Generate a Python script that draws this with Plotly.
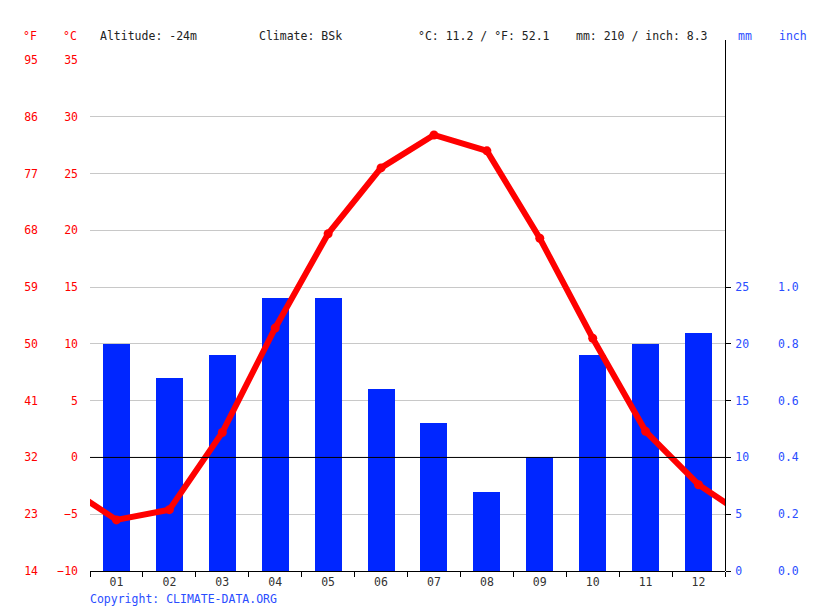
import plotly.graph_objects as go

# ---- data ----
months = list(range(1, 13))
month_labels = ["01", "02", "03", "04", "05", "06", "07", "08", "09", "10", "11", "12"]
precip_mm = [20, 17, 19, 24, 24, 16, 13, 7, 10, 19, 20, 21]
temp_c = [-5.5, -4.6, 2.2, 11.4, 19.7, 25.5, 28.4, 27.0, 19.3, 10.5, 2.3, -2.4]

c_ticks = [-10, -5, 0, 5, 10, 15, 20, 25, 30, 35]
f_labels = ["14", "23", "32", "41", "50", "59", "68", "77", "86", "95"]
mm_ticks = [0, 5, 10, 15, 20, 25]
inch_labels = ["0.0", "0.2", "0.4", "0.6", "0.8", "1.0"]

header_left = "Altitude: -24m"
header_climate = "Climate: BSk"
header_temp = "°C: 11.2 / °F: 52.1"
header_precip = "mm: 210 / inch: 8.3"

# ---- layout geometry (page has an 8px body margin) ----
OFF = 8
W, H = 815 - OFF, 611 - OFF
L, R, T, B = 90 - OFF, 90, 60 - OFF, 40
PW, PH = W - L - R, H - T - B

def px_x(x):
    return (x - OFF - L) / PW

def px_y(y):
    return (H - B - (y - OFF)) / PH

FONT = "DejaVu Sans Mono"
FS = 11.5
RED = "#ff0000"
BLUE = "#0026ff"
LBLUE = "#2a4dff"

# cyclic wrap so the line runs to the plot edges (clipped by the axis range)
line_x = [0] + months + [13]
line_y = [temp_c[-1]] + temp_c + [temp_c[0]]
boundaries = [m - 0.5 for m in months] + [months[-1] + 0.5]

fig = go.Figure()
fig.add_trace(go.Bar(x=months, y=precip_mm, width=0.51, marker=dict(color=BLUE, line=dict(width=0)),
                     yaxis="y", showlegend=False, hoverinfo="skip"))
fig.add_trace(go.Scatter(x=line_x, y=line_y, mode="lines+markers", yaxis="y2",
                         line=dict(color=RED, width=6), marker=dict(color=RED, size=9),
                         showlegend=False, hoverinfo="skip", cliponaxis=True))
# invisible traces so the secondary label axes (°F, inch) get drawn
fig.add_trace(go.Scatter(x=[months[0]], y=[c_ticks[0]], yaxis="y3", mode="markers",
                         marker=dict(opacity=0), showlegend=False, hoverinfo="skip"))
fig.add_trace(go.Scatter(x=[months[0]], y=[mm_ticks[0]], yaxis="y4", mode="markers",
                         marker=dict(opacity=0), showlegend=False, hoverinfo="skip"))

fig.update_layout(
    width=W, height=H,
    margin=dict(l=L, r=R, t=T, b=B, pad=0),
    paper_bgcolor="white", plot_bgcolor="white",
    font=dict(family=FONT, size=FS, color="#222"),
    bargap=0,
    xaxis=dict(range=[0.5, 12.5], tickmode="array", tickvals=months, ticktext=month_labels,
               ticks="", showgrid=False, zeroline=False, showline=True, linecolor="black", linewidth=1,
               tickfont=dict(family=FONT, size=FS, color="#333"),
               minor=dict(tickmode="array", tickvals=boundaries, ticks="outside", ticklen=5,
                          tickcolor="black", tickwidth=1, showgrid=False)),
    yaxis=dict(range=[0, 45], side="right", tickmode="array", tickvals=mm_ticks,
               ticks="outside", ticklen=5, tickcolor="black", showgrid=False, zeroline=False,
               showline=False, tickfont=dict(family=FONT, size=FS, color=LBLUE), ticklabelstandoff=2),
    yaxis2=dict(range=[-10, 35], overlaying="y", side="left", anchor="x", tickmode="array",
                tickvals=c_ticks, ticks="", showgrid=True, gridcolor="#c8c8c8", gridwidth=1,
                zeroline=False, showline=False, tickfont=dict(family=FONT, size=FS, color=RED),
                ticklabelstandoff=11),
    yaxis3=dict(range=[-10, 35], overlaying="y", side="left", anchor="free", position=0,
                tickmode="array", tickvals=c_ticks, ticktext=f_labels, ticks="", showgrid=False,
                zeroline=False, showline=False, tickfont=dict(family=FONT, size=FS, color=RED),
                ticklabelstandoff=52),
    yaxis4=dict(range=[0, 45], overlaying="y", side="right", anchor="free", position=1,
                tickmode="array", tickvals=mm_ticks, ticktext=inch_labels, ticks="", showgrid=False,
                zeroline=False, showline=False, tickfont=dict(family=FONT, size=FS, color=LBLUE),
                ticklabelstandoff=52),
)

# zero line above bars and right vertical axis line (snapped to a pixel centre)
fig.add_shape(type="line", xref="paper", yref="y2", x0=0, x1=1, y0=0, y1=0,
              line=dict(color="black", width=1), layer="above")
xr = 1 + 0.5 / PW
fig.add_shape(type="line", xref="paper", yref="paper", x0=xr, x1=xr, y0=0, y1=px_y(40),
              line=dict(color="black", width=1), layer="above")

def ann(text, x, y, color="#222", xanchor="left"):
    fig.add_annotation(text=text, xref="paper", yref="paper", x=px_x(x), y=px_y(y),
                       xanchor=xanchor, yanchor="middle", showarrow=False,
                       font=dict(family=FONT, size=FS, color=color))

ann("°F", 39, 36, RED, "right")
ann("°C", 79, 36, RED, "right")
ann(header_left, 98, 36)
ann(header_climate, 257, 36)
ann(header_temp, 416, 36)
ann(header_precip, 574, 36)
ann("mm", 736, 36, LBLUE)
ann("inch", 777, 36, LBLUE)
ann("Copyright: CLIMATE-DATA.ORG", 88, 599, "#2a4dff")

fig.write_html("out.html")
